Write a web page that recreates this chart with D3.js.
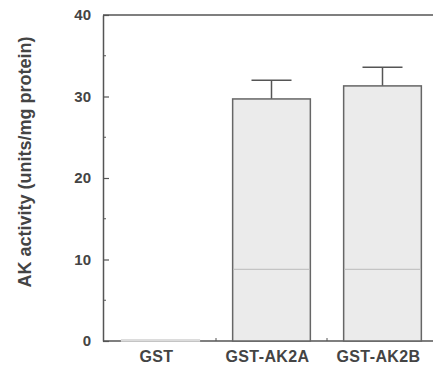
<!DOCTYPE html>
<html>
<head>
<meta charset="utf-8">
<script src="https://cdn.jsdelivr.net/npm/d3@7"></script>
<style>
  body { margin: 0; background: #fff; }
  svg { display: block; font-family: "Liberation Sans", Arial, sans-serif; }
</style>
</head>
<body>
<div id="chart"></div>
<script>
// data
const categories = ['GST', 'GST-AK2A', 'GST-AK2B'];
const activity = [0.15, 29.7, 31.3];
const errors = [0, 2.3, 2.3];
const majorTicks = [0, 10, 20, 30, 40];
const minorTicks = [5, 15, 25, 35];

const width = 433;
const height = 367;
const plotLeft = 103;
const plotTop = 15;
const plotBottom = 341;

const svg = d3.select('#chart')
    .append('svg')
    .attr('width', width)
    .attr('height', height);

const x = d3.scaleBand()
    .domain(categories)
    .range([105, 438])
    .paddingInner(0.3)
    .paddingOuter(0.15);

const y = d3.scaleLinear()
    .domain([0, 40])
    .range([plotBottom, plotTop]);

const axisColor = '#555';

// top frame line
svg.append('line')
    .attr('x1', plotLeft).attr('x2', width)
    .attr('y1', y(40)).attr('y2', y(40))
    .attr('stroke', axisColor)
    .attr('stroke-width', 1.5);

// y axis
const yAxis = svg.append('g')
    .attr('transform', 'translate(' + plotLeft + ',0)')
    .call(d3.axisLeft(y).tickValues(majorTicks).tickSize(-6).tickSizeOuter(0).tickPadding(12));
yAxis.select('.domain').attr('stroke', axisColor).attr('stroke-width', 1.5);
yAxis.selectAll('.tick line').attr('stroke', axisColor).attr('stroke-width', 1.2);
yAxis.selectAll('.tick text')
    .attr('font-size', 15)
    .attr('font-weight', 'bold')
    .attr('fill', '#444');

// minor ticks
svg.append('g').selectAll('line')
    .data(minorTicks)
    .enter()
    .append('line')
    .attr('x1', plotLeft).attr('x2', plotLeft + 3)
    .attr('y1', d => y(d)).attr('y2', d => y(d))
    .attr('stroke', axisColor)
    .attr('stroke-width', 1);

// x axis
const xAxis = svg.append('g')
    .attr('transform', 'translate(0,' + plotBottom + ')')
    .call(d3.axisBottom(x).tickSize(0).tickPadding(10));
xAxis.select('.domain').remove();
xAxis.selectAll('.tick text')
    .attr('font-size', 16)
    .attr('font-weight', 'bold')
    .attr('fill', '#444')
    .attr('letter-spacing', 0.4)
    .attr('dx', -4);

svg.append('line')
    .attr('x1', plotLeft).attr('x2', width)
    .attr('y1', plotBottom).attr('y2', plotBottom)
    .attr('stroke', axisColor)
    .attr('stroke-width', 1.5);

// small ticks between categories
svg.append('g').selectAll('line')
    .data(categories.slice(1))
    .enter()
    .append('line')
    .attr('x1', d => x(d) - x.step() * x.paddingInner() / 2)
    .attr('x2', d => x(d) - x.step() * x.paddingInner() / 2)
    .attr('y1', plotBottom).attr('y2', plotBottom - 3)
    .attr('stroke', axisColor)
    .attr('stroke-width', 1);

// error bars
const err = svg.append('g').selectAll('g')
    .data(categories.map((c, i) => ({ c: c, v: activity[i], e: errors[i] })).filter(d => d.e > 0))
    .enter()
    .append('g');
err.append('line')
    .attr('x1', d => x(d.c) + x.bandwidth() / 2)
    .attr('x2', d => x(d.c) + x.bandwidth() / 2)
    .attr('y1', d => y(d.v)).attr('y2', d => y(d.v + d.e))
    .attr('stroke', axisColor).attr('stroke-width', 1.5);
err.append('line')
    .attr('x1', d => x(d.c) + x.bandwidth() / 2 - 20)
    .attr('x2', d => x(d.c) + x.bandwidth() / 2 + 20)
    .attr('y1', d => y(d.v + d.e)).attr('y2', d => y(d.v + d.e))
    .attr('stroke', axisColor).attr('stroke-width', 1.5);

// bars
svg.append('g').selectAll('rect')
    .data(categories.map((c, i) => ({ c: c, v: activity[i] })))
    .enter()
    .append('rect')
    .attr('x', d => x(d.c))
    .attr('y', d => y(d.v))
    .attr('width', x.bandwidth())
    .attr('height', d => Math.max(1, y(0) - y(d.v)))
    .attr('fill', '#ebebeb')
    .attr('stroke', d => d.v < 1 ? '#dcdcdc' : '#666')
    .attr('stroke-width', 1.5);

// faint scan line across the tall bars
svg.append('g').selectAll('line')
    .data(categories.filter((c, i) => activity[i] > 10))
    .enter()
    .append('line')
    .attr('x1', d => x(d) + 1).attr('x2', d => x(d) + x.bandwidth() - 1)
    .attr('y1', y(8.8)).attr('y2', y(8.8))
    .attr('stroke', '#c4c4c4')
    .attr('stroke-width', 1.2);

// y axis title
svg.append('text')
    .attr('transform', 'translate(31,' + ((y(40) + y(0)) / 2 - 16) + ') rotate(-90)')
    .attr('text-anchor', 'middle')
    .attr('font-size', 18)
    .attr('font-weight', 'bold')
    .attr('fill', '#444')
    .text('AK activity (units/mg protein)');
</script>
</body>
</html>
